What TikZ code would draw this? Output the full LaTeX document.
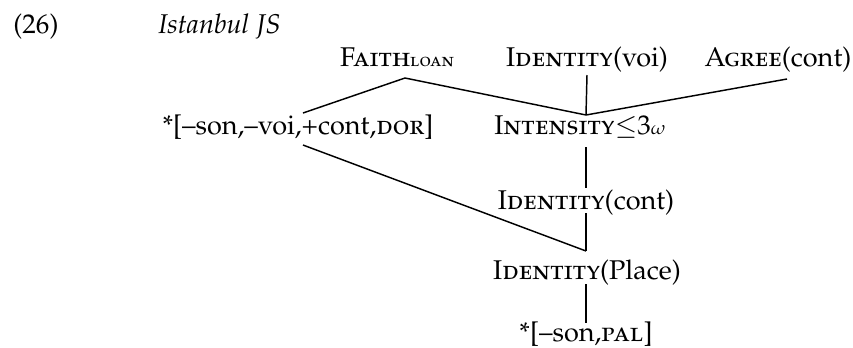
\documentclass[tikz,border=0pt]{standalone}
\usepackage[T1]{fontenc}
\usepackage[sc]{mathpazo}
\begin{document}
\begin{tikzpicture}[x=0.48pt,y=-0.48pt,
  lab/.style={inner sep=0pt,anchor=base,font=\fontsize{13}{15}\selectfont},
  edge/.style={line width=0.7pt}]
\useasboundingbox (0,0) rectangle (853,347);
\node[lab,anchor=base west] (num) at (13,33) {(26)};
\node[lab,anchor=base west] (title) at (158,33) {\itshape Istanbul JS};
\node[lab] (faith) at (397,66) {\textsc{Faith}{\small\textsc{loan}}};
\node[lab] (idv) at (587,66) {\textsc{Identity}(voi)};
\node[lab] (agr) at (778,66) {\textsc{Agree}(cont)};
\node[lab] (mark) at (298,134) {*[--son,--voi,+cont,\textsc{dor}]};
\node[lab] (int) at (580,134) {\textsc{Intensity}$\leq$3{\small$\omega$}};
\node[lab] (idc) at (586,209) {\textsc{Identity}(cont)};
\node[lab] (idp) at (587,279) {\textsc{Identity}(Place)};
\node[lab] (pal) at (586,341) {*[--son,\textsc{pal}]};
\coordinate (fp) at (405,78);
\coordinate (ip) at (586,115);
\coordinate (ml) at (303,113);
\coordinate (mb) at (303,145);
\coordinate (pp) at (586,251);
\draw[edge] (ml) -- (fp) -- (ip);
\draw[edge] (idv.south |- 0,75) -- (ip);
\draw[edge] (787,79) -- (ip);
\draw[edge] (586,147) -- (586,188);
\draw[edge] (586,213) -- (pp);
\draw[edge] (mb) -- (pp);
\draw[edge] (586,284) -- (586,323);
\end{tikzpicture}
\end{document}
